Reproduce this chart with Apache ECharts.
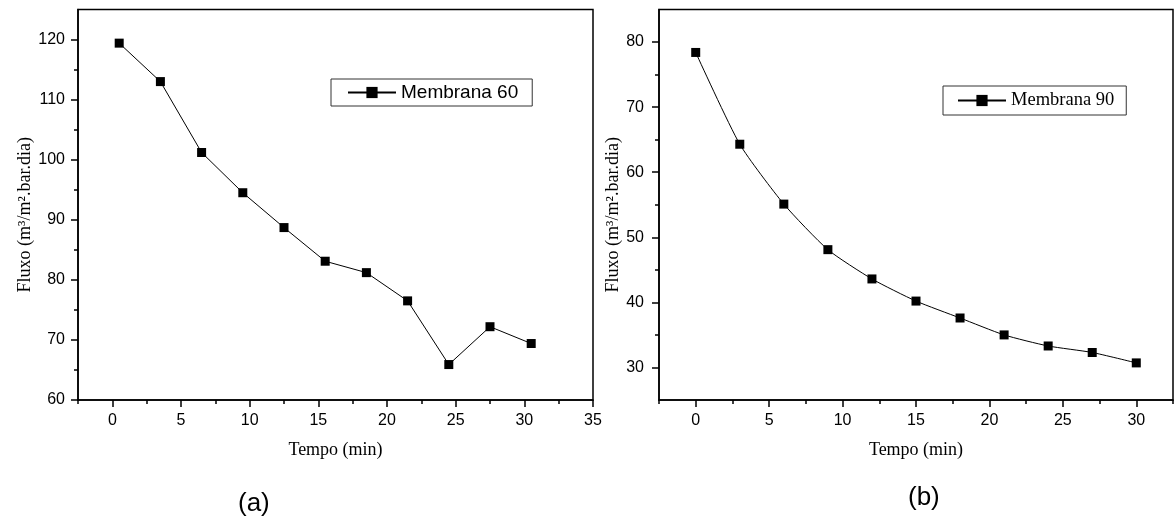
<!DOCTYPE html>
<html>
<head>
<meta charset="utf-8">
<script src="https://cdn.jsdelivr.net/npm/echarts@6/dist/echarts.min.js"></script>
<style>
html,body{margin:0;padding:0;background:#fff;}
#chart{width:1174px;height:519px;}
</style>
</head>
<body>
<div id="chart"></div>
<script>
// ---- data ----
const timeA = [0.5, 3.5, 6.5, 9.5, 12.5, 15.5, 18.5, 21.5, 24.5, 27.5, 30.5];
const fluxA = [119.4, 113.0, 101.2, 94.5, 88.7, 83.1, 81.2, 76.5, 65.9, 72.2, 69.4];
const timeB = [0, 3, 6, 9, 12, 15, 18, 21, 24, 27, 30];
const fluxB = [78.4, 64.3, 55.1, 48.1, 43.6, 40.2, 37.6, 35.0, 33.3, 32.3, 30.7];

const xTicksA = [0, 5, 10, 15, 20, 25, 30, 35];
const xMinorA = [-2.5, 2.5, 7.5, 12.5, 17.5, 22.5, 27.5, 32.5];
const yTicksA = [60, 70, 80, 90, 100, 110, 120];
const yMinorA = [65, 75, 85, 95, 105, 115];

const xTicksB = [0, 5, 10, 15, 20, 25, 30];
const xMinorB = [-2.5, 2.5, 7.5, 12.5, 17.5, 22.5, 27.5, 32.5];
const yTicksB = [30, 40, 50, 60, 70, 80];
const yMinorB = [35, 45, 55, 65, 75];

const nameA = 'Membrana 60';
const nameB = 'Membrana 90';
const xTitle = 'Tempo (min)';
const yTitle = 'Fluxo (m\u00B3/m\u00B2.bar.dia)';

// ---- chart ----
const chart = echarts.init(document.getElementById('chart'), null, {renderer: 'canvas'});
const sans = 'Liberation Sans, Arial, sans-serif';
const serif = 'Liberation Serif, Times New Roman, serif';

function mainX(grid, min, max, ticks) {
  return {
    type: 'value', gridIndex: grid, min: min, max: max, position: 'bottom',
    name: xTitle, nameLocation: 'middle', nameGap: 41,
    nameTextStyle: {fontFamily: serif, fontSize: 18, color: '#000'},
    axisLine: {onZero: false, lineStyle: {color: '#000', width: 1.5}},
    axisTick: {customValues: ticks, length: 7, lineStyle: {color: '#000', width: 1.5}},
    axisLabel: {customValues: ticks, margin: 13, fontFamily: sans, fontSize: 16, color: '#000'},
    splitLine: {show: false}
  };
}
function minorX(grid, min, max, ticks) {
  return {
    type: 'value', gridIndex: grid, min: min, max: max, position: 'bottom',
    axisLine: {show: false, onZero: false},
    axisTick: {customValues: ticks, length: 4, lineStyle: {color: '#000', width: 1.5}},
    axisLabel: {show: false},
    splitLine: {show: false}
  };
}
function mainY(grid, min, max, ticks, gap, margin) {
  return {
    type: 'value', gridIndex: grid, min: min, max: max, position: 'left',
    name: yTitle, nameLocation: 'middle', nameGap: gap,
    nameTextStyle: {fontFamily: serif, fontSize: 18, color: '#000', padding: [0, 20, 0, 0]},
    axisLine: {onZero: false, lineStyle: {color: '#000', width: 1.5}},
    axisTick: {customValues: ticks, length: 7, lineStyle: {color: '#000', width: 1.5}},
    axisLabel: {customValues: ticks, margin: margin, fontFamily: sans, fontSize: 16, color: '#000'},
    splitLine: {show: false}
  };
}
function minorY(grid, min, max, ticks) {
  return {
    type: 'value', gridIndex: grid, min: min, max: max, position: 'left',
    axisLine: {show: false, onZero: false},
    axisTick: {customValues: ticks, length: 4, lineStyle: {color: '#000', width: 1.5}},
    axisLabel: {show: false},
    splitLine: {show: false}
  };
}

const option = {
  animation: false,
  backgroundColor: '#fff',
  grid: [
    {left: 78, top: 9.5, width: 515, height: 390.5, show: true, borderColor: '#000', borderWidth: 1.5, containLabel: false},
    {left: 659, top: 9.5, width: 514, height: 390.5, show: true, borderColor: '#000', borderWidth: 1.5, containLabel: false}
  ],
  xAxis: [
    mainX(0, -2.5, 35, xTicksA),
    minorX(0, -2.5, 35, xMinorA),
    mainX(1, -2.5, 32.5, xTicksB),
    minorX(1, -2.5, 32.5, xMinorB)
  ],
  yAxis: [
    mainY(0, 60, 125, yTicksA, 44, 13),
    minorY(0, 60, 125, yMinorA),
    mainY(1, 25, 85, yTicksB, 35, 15),
    minorY(1, 25, 85, yMinorB)
  ],
  legend: [
    {
      data: [nameA], left: 331, top: 79, orient: 'horizontal',
      padding: [4, 14, 4, 16], itemWidth: 48, itemHeight: 14, itemGap: 0,
      borderColor: '#333', borderWidth: 1, backgroundColor: '#fff',
      textStyle: {fontFamily: sans, fontSize: 19, color: '#000'},
      selectedMode: false
    },
    {
      data: [nameB], left: 943, top: 86, orient: 'horizontal',
      padding: [5, 12, 5, 14], itemWidth: 48, itemHeight: 14, itemGap: 0,
      borderColor: '#333', borderWidth: 1, backgroundColor: '#fff',
      textStyle: {fontFamily: serif, fontSize: 18.5, color: '#000'},
      selectedMode: false
    }
  ],
  graphic: [
    {type: 'text', left: 238, top: 491, style: {text: '(a)', font: '26px Liberation Sans, Arial, sans-serif', fill: '#000'}},
    {type: 'text', left: 908, top: 485, style: {text: '(b)', font: '26px Liberation Sans, Arial, sans-serif', fill: '#000'}}
  ],
  series: [
    {
      name: nameA, type: 'line', xAxisIndex: 0, yAxisIndex: 0,
      data: timeA.map((t, i) => [t, fluxA[i]]),
      symbol: 'rect', symbolSize: 9,
      lineStyle: {color: '#000', width: 1},
      itemStyle: {color: '#000'}
    },
    {
      name: nameB, type: 'line', xAxisIndex: 2, yAxisIndex: 2,
      data: timeB.map((t, i) => [t, fluxB[i]]),
      symbol: 'rect', symbolSize: 9, smooth: 0.2,
      lineStyle: {color: '#000', width: 1},
      itemStyle: {color: '#000'}
    }
  ]
};
chart.setOption(option);
</script>
</body>
</html>
